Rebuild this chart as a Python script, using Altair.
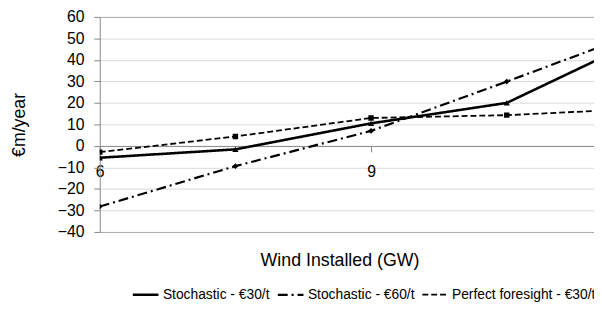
import altair as alt
import pandas as pd

# ---- data ----
wind_gw = [6, 7.5, 9, 10.5, 12]
series_names = ["Stochastic - €30/t", "Stochastic - €60/t", "Perfect foresight - €30/t"]
marker_names = ["triangle-up", "diamond", "square"]
stoch_30 = [-5.5, -1.6, 10.5, 20.0, 50.0]
stoch_60 = [-28.2, -9.4, 7.0, 29.9, 53.4]
perfect_30 = [-2.9, 4.4, 13.0, 14.3, 17.3]
x_ticks = [6, 9]
y_ticks = [-40, -30, -20, -10, 0, 10, 20, 30, 40, 50, 60]

rows = []
for name, mk, vals in zip(series_names, marker_names, [stoch_30, stoch_60, perfect_30]):
    for xv, v in zip(wind_gw, vals):
        rows.append({"wind": xv, "value": v, "series": name, "marker": mk})
df = pd.DataFrame(rows)

FONT = "Liberation Sans"
W, H = 501, 218
AX = "#868686"

x_enc = alt.X(
    "wind:Q",
    scale=alt.Scale(domain=[6, 11.465], nice=False, zero=False),
    axis=alt.Axis(
        values=x_ticks, title="Wind Installed (GW)", offset=-87.2, grid=False,
        domainColor=AX, tickColor=AX, tickSize=6, labelFontSize=16, labelPadding=12,
        labelFlush=False, labelOverlap=False, labelColor="#000",
        titleFontSize=18, titleFontWeight="normal", titleColor="#000",
        titleX=243, titleY=107, titleBaseline="top", format="d",
    ),
)
y_enc = alt.Y(
    "value:Q",
    scale=alt.Scale(domain=[-40, 60], nice=False, zero=False),
    axis=alt.Axis(
        values=y_ticks, title="€m/year", grid=True,
        gridColor={"condition": {"test": "datum.value == 60 || datum.value == -40", "value": "#a6a6a6"}, "value": "#d9d9d9"},
        domainColor=AX, tickColor=AX, tickSize=6, labelFontSize=16, labelPadding=10,
        labelColor="#000", titleFontSize=18, titleFontWeight="normal", titleColor="#000",
        titleX=-81, titleBaseline="middle",
    ),
)

base = alt.Chart(df).encode(x=x_enc, y=y_enc)

lines = base.mark_line(color="black", clip=True).encode(
    strokeDash=alt.StrokeDash(
        "series:N",
        scale=alt.Scale(domain=series_names, range=[[1, 0], [10, 4, 2, 4], [6, 3]]),
        legend=alt.Legend(
            title=None, orient="none", legendX=32, legendY=267, direction="horizontal",
            symbolType="stroke", symbolSize=676, symbolStrokeWidth=2, symbolStrokeColor="black",
            labelFontSize=14, labelFont=FONT, labelColor="#000", columnPadding=3, labelOffset=3,
        ),
    ),
    strokeWidth=alt.StrokeWidth(
        "series:N", scale=alt.Scale(domain=series_names, range=[2.6, 1.8, 2.2]), legend=None
    ),
)

points = base.mark_point(filled=True, color="black", opacity=1, clip=True).encode(
    shape=alt.Shape(
        "marker:N",
        scale=alt.Scale(domain=marker_names, range=marker_names),
        legend=None,
    ),
    size=alt.Size("marker:N", scale=alt.Scale(domain=marker_names, range=[40, 30, 36]), legend=None),
)

chart = (
    alt.layer(lines, points)
    .properties(
        width=W, height=H,
        autosize=alt.AutoSizeParams(type="none"),
        padding={"left": 93, "top": 7, "right": 0, "bottom": 69},
        background="white",
    )
    .configure_view(stroke=None)
    .configure_axis(labelFont=FONT, titleFont=FONT)
    .configure_legend(labelFont=FONT)
)

chart.save("out.html", embed_options={"renderer": "svg", "actions": False})
